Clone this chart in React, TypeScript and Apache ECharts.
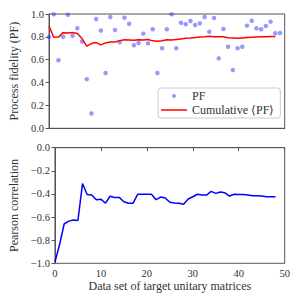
import React, { useEffect, useRef } from "react";
import * as echarts from "echarts";

const pfValues = [
  0.80, 0.997, 0.595, 0.80, 0.994, 0.81, 0.875, 0.76, 0.43, 0.13,
  0.956, 0.855, 0.484, 0.974, 0.86, 0.752, 0.968, 0.915, 0.726, 0.746,
  0.828, 0.743, 0.866, 0.484, 0.70, 0.866, 0.997, 0.70, 0.924, 0.91,
  0.939, 0.904, 0.918, 0.974, 0.845, 0.965, 0.612, 0.869, 0.714, 0.51,
  0.70, 0.714, 0.898, 0.941, 0.875, 0.866, 0.895, 0.933, 0.831, 0.834,
];

const cumulativeValues = [
  0.895, 0.797, 0.798, 0.837, 0.833, 0.839, 0.829, 0.785, 0.719, 0.741,
  0.750, 0.730, 0.747, 0.755, 0.755, 0.767, 0.775, 0.773, 0.771, 0.774,
  0.773, 0.777, 0.765, 0.762, 0.766, 0.775, 0.772, 0.777, 0.782, 0.787,
  0.790, 0.794, 0.799, 0.801, 0.805, 0.800, 0.802, 0.800, 0.792, 0.790,
  0.788, 0.791, 0.794, 0.796, 0.798, 0.800, 0.802, 0.803, 0.804,
];

const pearsonValues = [
  -0.99, -0.84, -0.66, -0.635, -0.625, -0.63, -0.31, -0.405, -0.41, -0.45,
  -0.445, -0.48, -0.42, -0.43, -0.43, -0.467, -0.48, -0.48, -0.403, -0.403,
  -0.403, -0.403, -0.45, -0.427, -0.435, -0.472, -0.478, -0.48, -0.49, -0.444,
  -0.424, -0.403, -0.41, -0.41, -0.378, -0.395, -0.383, -0.39, -0.418, -0.403,
  -0.405, -0.405, -0.41, -0.415, -0.415, -0.418, -0.424, -0.424, -0.424,
];

const xTicks = { min: 0, max: 50, interval: 10 };
const FONT = "Liberation Serif";
const AXIS_COLOR = "#555";
const TEXT_COLOR = "#333";

export default function App() {
  const ref = useRef<HTMLDivElement>(null);

  useEffect(() => {
    if (!ref.current) return;
    const chart = echarts.init(ref.current, null, { renderer: "svg" });
    const fmt = (v: number) => {
      const s = Math.abs(v).toFixed(1);
      return v < -1e-9 ? "\u2212" + s : s;
    };
    const axisLine = { show: true, lineStyle: { color: AXIS_COLOR, width: 1 } };
    const tick = { show: true, inside: false, length: 3.5, lineStyle: { color: AXIS_COLOR } };
    const label = { fontFamily: FONT, fontSize: 10.5, color: TEXT_COLOR };
    const nameStyle = { fontFamily: FONT, fontSize: 12, color: TEXT_COLOR };

    chart.setOption({
      animation: false,
      backgroundColor: "#fff",
      textStyle: { fontFamily: FONT },
      grid: [
        { left: 47.5, right: 15.3, top: 14, height: 114.3, show: true, borderColor: AXIS_COLOR, borderWidth: 1 },
        { left: 47.5, right: 15.3, top: 147.7, height: 115.6, show: true, borderColor: AXIS_COLOR, borderWidth: 1 },
      ],
      xAxis: [
        {
          gridIndex: 0, type: "value", ...xTicks,
          axisLine, axisTick: { show: false }, axisLabel: { show: false }, splitLine: { show: false },
        },
        {
          gridIndex: 1, type: "value", ...xTicks,
          axisLine, axisTick: tick, splitLine: { show: false },
          axisLabel: { ...label, margin: 5 },
          name: "Data set of target unitary matrices",
          nameLocation: "middle", nameGap: 15,
          nameTextStyle: nameStyle,
        },
      ],
      yAxis: [
        {
          gridIndex: 0, type: "value", min: 0, max: 1, interval: 0.2,
          axisLine, axisTick: tick, splitLine: { show: false },
          axisLabel: { ...label, margin: 5, formatter: fmt },
          name: "Process fidelity (PF)", nameLocation: "middle", nameGap: 20,
          nameTextStyle: nameStyle,
        },
        {
          gridIndex: 1, type: "value", min: -1, max: 0, interval: 0.2,
          axisLine, axisTick: tick, splitLine: { show: false },
          axisLabel: { ...label, margin: 5, formatter: fmt },
          name: "Pearson correlation", nameLocation: "middle", nameGap: 28,
          nameTextStyle: nameStyle,
        },
      ],
      legend: {
        left: 158, top: 88, orient: "vertical",
        itemWidth: 26, itemHeight: 4, itemGap: 2,
        padding: [2, 6, 2, 3],
        backgroundColor: "#fff",
        borderColor: "#ccc", borderWidth: 1, borderRadius: 3,
        textStyle: { fontFamily: FONT, fontSize: 12, color: TEXT_COLOR },
        data: [
          { name: "PF", icon: "circle" },
          {
            name: "Cumulative \u27E8PF\u27E9",
            icon: "path://M0,0H26V1.5H0Z",
            itemStyle: { color: "#ff0000" },
          },
        ],
      },
      series: [
        {
          name: "PF", type: "scatter", xAxisIndex: 0, yAxisIndex: 0,
          symbolSize: 4.5,
          itemStyle: { color: "rgba(40,40,255,0.6)" },
          data: pfValues.map((v, i) => [i, v]),
        },
        {
          name: "Cumulative \u27E8PF\u27E9", type: "line", xAxisIndex: 0, yAxisIndex: 0,
          showSymbol: false, symbol: "none",
          lineStyle: { color: "#ff0000", width: 1.5 },
          itemStyle: { color: "#ff0000" },
          data: cumulativeValues.map((v, i) => [i, v]),
        },
        {
          name: "Pearson", type: "line", xAxisIndex: 1, yAxisIndex: 1,
          showSymbol: false, symbol: "none",
          lineStyle: { color: "#0000ff", width: 1.5 },
          itemStyle: { color: "#0000ff" },
          data: pearsonValues.map((v, i) => [i, v]),
        },
      ],
    });
    return () => chart.dispose();
  }, []);

  return (
    <div
      ref={ref}
      style={{ position: "fixed", left: 0, top: 0, width: 300, height: 300 }}
    />
  );
}
